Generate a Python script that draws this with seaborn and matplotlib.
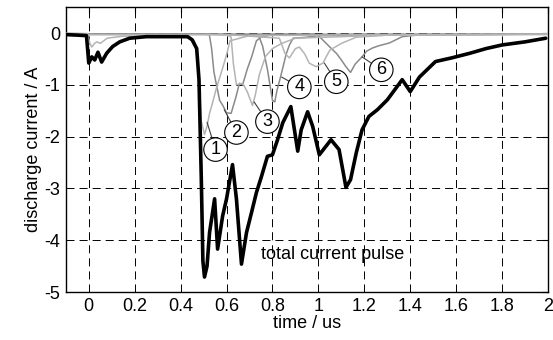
import matplotlib
matplotlib.use("Agg")
import matplotlib.pyplot as plt
import seaborn as sns
import pandas as pd

# total discharge current (black trace)
t_total = [-0.1, -0.05, -0.01, 0.0, 0.013, 0.026, 0.04, 0.056, 0.078, 0.104, 0.135,
           0.178, 0.25, 0.35, 0.43, 0.45, 0.47, 0.48, 0.49, 0.497, 0.504, 0.515,
           0.526, 0.548, 0.561, 0.583, 0.6, 0.626, 0.643, 0.665, 0.687, 0.709,
           0.73, 0.752, 0.778, 0.8, 0.822, 0.845, 0.88, 0.91, 0.925, 0.953,
           0.975, 1.004, 1.055, 1.09, 1.12, 1.14, 1.165, 1.19, 1.22, 1.257,
           1.3, 1.365, 1.40, 1.44, 1.51, 1.58, 1.66, 1.73, 1.80, 1.9, 1.99]
i_total = [-0.03, -0.04, -0.05, -0.58, -0.46, -0.52, -0.37, -0.56, -0.39, -0.26, -0.17,
           -0.1, -0.07, -0.07, -0.07, -0.13, -0.3, -0.9, -2.8, -4.4, -4.71, -4.5,
           -3.85, -3.2, -4.17, -3.53, -3.2, -2.54, -3.2, -4.46, -3.85, -3.46,
           -3.08, -2.77, -2.38, -2.35, -2.06, -1.73, -1.42, -2.28, -1.87, -1.52,
           -1.8, -2.35, -2.06, -2.25, -2.98, -2.83, -2.31, -1.87, -1.61, -1.48,
           -1.29, -0.9, -1.13, -0.85, -0.55, -0.48, -0.39, -0.3, -0.23, -0.17, -0.1]

# individual partial pulses 1..6
t_p1 = [-0.1, -0.005, 0.005, 0.013, 0.025, 0.035, 0.05, 0.08, 0.15, 0.3, 0.44, 0.46,
        0.475, 0.49, 0.504, 0.515, 0.526, 0.54, 0.556, 0.578, 0.6, 0.615, 0.7, 1.0, 1.5, 2.0]
i_p1 = [0.0, -0.01, -0.2, -0.27, -0.2, -0.17, -0.2, -0.1, -0.06, -0.06, -0.08, -0.15,
        -0.6, -1.7, -1.96, -1.8, -1.55, -1.33, -1.06, -0.75, -0.42, -0.15, -0.05, -0.04, -0.03, -0.02]

t_p2 = [-0.1, 0.3, 0.5, 0.525, 0.535, 0.545, 0.556, 0.57, 0.584, 0.6, 0.62, 0.64,
        0.656, 0.67, 0.69, 0.71, 0.73, 0.75, 0.8, 1.2, 2.0]
i_p2 = [-0.02, -0.02, -0.02, -0.03, -0.3, -0.75, -1.0, -1.3, -1.4, -1.54, -1.55, -1.25,
        -0.97, -1.0, -0.7, -0.45, -0.15, -0.08, -0.03, -0.02, -0.02]

t_p3 = [-0.1, 0.6, 0.62, 0.63, 0.643, 0.67, 0.69, 0.713, 0.725, 0.743, 0.77, 0.8,
        0.84, 0.9, 1.3, 2.0]
i_p3 = [-0.03, -0.03, -0.08, -0.6, -1.0, -0.97, -1.13, -1.4, -1.2, -0.8, -0.45, -0.3,
        -0.2, -0.1, -0.04, -0.02]

t_p4 = [-0.1, 0.5, 0.74, 0.757, 0.778, 0.8, 0.81, 0.82, 0.835, 0.845, 0.86, 0.874,
        0.89, 0.95, 1.0, 2.0]
i_p4 = [-0.02, -0.02, -0.05, -0.25, -0.7, -1.3, -1.33, -1.1, -0.85, -0.67, -0.4, -0.23,
        -0.1, -0.08, -0.05, -0.02]

t_p5 = [-0.1, 0.6, 0.83, 0.855, 0.874, 0.9, 0.917, 0.94, 0.96, 0.99, 1.02, 1.035,
        1.05, 1.1, 1.165, 1.3, 2.0]
i_p5 = [-0.03, -0.03, -0.1, -0.4, -0.48, -0.3, -0.27, -0.4, -0.58, -0.65, -0.58, -0.45,
        -0.33, -0.2, -0.08, -0.04, -0.03]

t_p6 = [-0.1, 0.8, 0.98, 1.0, 1.05, 1.08, 1.1, 1.12, 1.14, 1.16, 1.19, 1.21, 1.235,
        1.26, 1.31, 1.365, 1.45, 2.0]
i_p6 = [-0.02, -0.02, -0.02, -0.05, -0.27, -0.4, -0.52, -0.65, -0.76, -0.6, -0.46, -0.35,
        -0.29, -0.25, -0.19, -0.07, -0.03, -0.02]

pulse_labels = ["1", "2", "3", "4", "5", "6"]
# point on each trace and position of its circled number
label_anchor_t = [0.515, 0.59, 0.72, 0.84, 1.026, 1.19]
label_anchor_i = [-1.72, -1.48, -1.33, -0.85, -0.58, -0.46]
label_pos_t = [0.552, 0.643, 0.778, 0.917, 1.078, 1.274]
label_pos_i = [-2.25, -1.92, -1.71, -1.04, -0.94, -0.71]

x_ticks = [0, 0.2, 0.4, 0.6, 0.8, 1, 1.2, 1.4, 1.6, 1.8, 2]
x_tick_labels = ["0", "0.2", "0.4", "0.6", "0.8", "1", "1.2", "1.4", "1.6", "1.8", "2"]
y_ticks = [-5, -4, -3, -2, -1, 0]
y_tick_labels = ["-5", "-4", "-3", "-2", "-1", "0"]

sns.set_style("white")
plt.rcParams["font.family"] = ["Liberation Sans", "DejaVu Sans"]
plt.rcParams["axes.unicode_minus"] = False
plt.rcParams["lines.scale_dashes"] = False
plt.rcParams["text.color"] = "black"
plt.rcParams["axes.labelcolor"] = "black"

LIGHT = "#b4b4b4"
MID = "#8a8a8a"

fig, ax = plt.subplots(figsize=(5.53, 3.40), dpi=100)
fig.subplots_adjust(left=0.119, right=0.991, bottom=0.141, top=0.979)

pulses = [(t_p2, i_p2, MID), (t_p4, i_p4, MID), (t_p6, i_p6, MID),
          (t_p1, i_p1, LIGHT), (t_p3, i_p3, LIGHT), (t_p5, i_p5, LIGHT)]
for t, i, c in pulses:
    df = pd.DataFrame({"t": t, "i": i})
    sns.lineplot(data=df, x="t", y="i", ax=ax, color=c, linewidth=1.1,
                 sort=False, estimator=None, zorder=3)

df_total = pd.DataFrame({"t": t_total, "i": i_total})
sns.lineplot(data=df_total, x="t", y="i", ax=ax, color="black", linewidth=2.6,
             sort=False, estimator=None, zorder=4)

for lab, at, ai, pt, pi in zip(pulse_labels, label_anchor_t, label_anchor_i,
                               label_pos_t, label_pos_i):
    ax.annotate(lab, xy=(at, ai), xytext=(pt, pi), ha="center", va="center",
                fontsize=13, zorder=6, color="black",
                bbox=dict(boxstyle="circle,pad=0.18", fc="white", ec="black", lw=0.8),
                arrowprops=dict(arrowstyle="-", color="#404040", lw=0.8,
                                shrinkA=0, shrinkB=0))

ax.text(0.752, -4.27, "total current pulse", fontsize=13, va="center", ha="left",
        color="black", zorder=6)

ax.set_xlim(-0.1, 2)
ax.set_ylim(-5, 0.5)
ax.set_xticks(x_ticks)
ax.set_xticklabels(x_tick_labels)
ax.set_yticks(y_ticks)
ax.set_yticklabels(y_tick_labels)
ax.tick_params(direction="in", length=4, width=0.8, labelsize=13, pad=4,
               top=True, right=True, colors="black", labelcolor="black")
ax.grid(True, color="black", linestyle=(0, (5.8, 3.6)), linewidth=0.7)
for s in ax.spines.values():
    s.set_color("black")
    s.set_linewidth(1.0)

ax.set_xlabel("time / us", fontsize=13, labelpad=0, color="black")
ax.set_ylabel("discharge current / A", fontsize=13, labelpad=2, color="black")

fig.savefig("out.png", dpi=100)
